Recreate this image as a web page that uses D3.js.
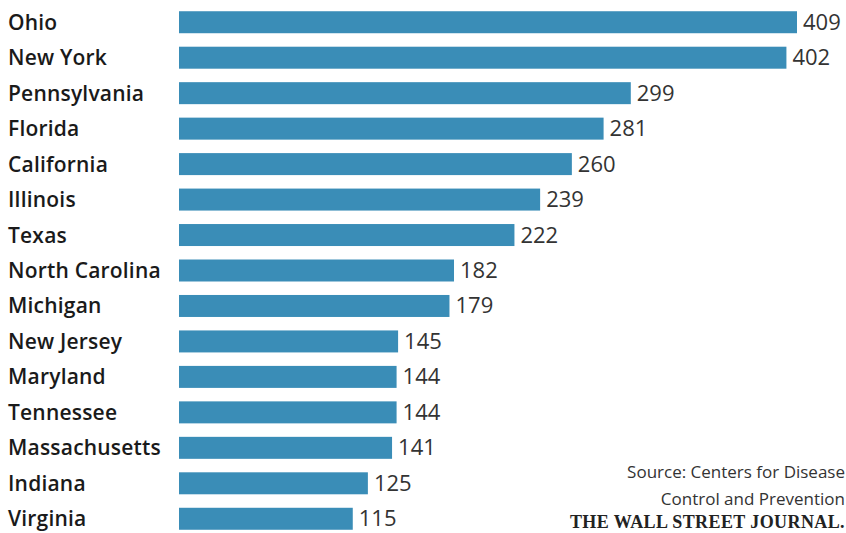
<!DOCTYPE html>
<html><head><meta charset="utf-8">
<script src="https://cdn.jsdelivr.net/npm/d3@7/dist/d3.min.js"></script>
<style>body{margin:0;background:#fff}svg{display:block}</style>
</head><body>
<svg id="c" width="846" height="533"></svg>
<script>
const states = ["Ohio","New York","Pennsylvania","Florida","California","Illinois","Texas","North Carolina","Michigan","New Jersey","Maryland","Tennessee","Massachusetts","Indiana","Virginia"];
const values = [409,402,299,281,260,239,222,182,179,145,144,144,141,125,115];
const sourceLines = ["Source: Centers for Disease","Control and Prevention"];
const credit = "THE WALL STREET JOURNAL.";

const svg = d3.select("#c");
const x = d3.scaleLinear().domain([0, 409]).range([179, 797]);
const y = d3.scaleBand().domain(states).range([4.5, 536.5]).paddingInner(0.38).paddingOuter(0.19);

const rows = svg.selectAll("g.row").data(states).join("g").attr("class","row");
rows.append("rect")
  .attr("x", x(0)).attr("y", d => y(d))
  .attr("width", (d,i) => x(values[i]) - x(0))
  .attr("height", y.bandwidth())
  .attr("fill", "#3a8db7");
rows.append("text")
  .attr("x", 8).attr("y", d => y(d) + y.bandwidth()/2 + 7.5)
  .attr("font-family", "'Open Sans', sans-serif").attr("font-weight", 600)
  .attr("font-size", 21).attr("letter-spacing", 0.2).attr("fill", "#1a1a1a")
  .text(d => d);
rows.append("text")
  .attr("x", (d,i) => x(values[i]) + 6).attr("y", d => y(d) + y.bandwidth()/2 + 7.5)
  .attr("font-family", "'Open Sans', sans-serif")
  .attr("font-size", 22).attr("fill", "#333")
  .text((d,i) => values[i]);

svg.append("g").selectAll("text").data(sourceLines).join("text")
  .attr("x", 845).attr("y", (d,i) => 478 + i*27)
  .attr("text-anchor","end")
  .attr("font-family","'Open Sans', sans-serif").attr("font-size",17).attr("fill","#333")
  .text(d => d);
svg.append("text").attr("x", 845).attr("y", 528)
  .attr("text-anchor","end")
  .attr("font-family","'Liberation Serif', serif").attr("font-weight","bold")
  .attr("font-size",18).attr("fill","#222").attr("letter-spacing",0.4)
  .text(credit);
</script>
</body></html>
